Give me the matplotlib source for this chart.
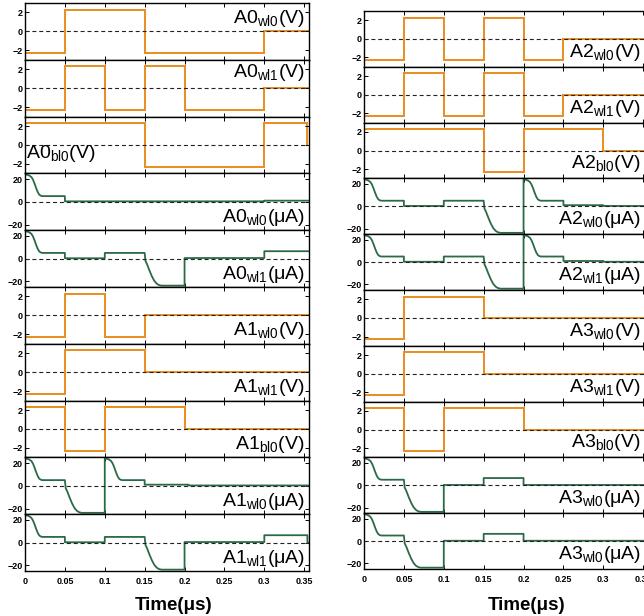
import matplotlib.pyplot as plt

plt.rcParams['font.family'] = ['Liberation Sans', 'DejaVu Sans']
plt.rcParams['mathtext.fontset'] = 'custom'
plt.rcParams['mathtext.rm'] = 'Liberation Sans'
plt.rcParams['mathtext.it'] = 'Liberation Sans:italic'
plt.rcParams['mathtext.bf'] = 'Liberation Sans:bold'

T_END = 0.356
ORANGE = '#EA8C1E'
GREEN = '#2B6A47'

# voltage waveforms: switching times (edges) and levels
A0_WL0_V = ([0, 0.05, 0.15, 0.30, T_END], [-2.3, 2.3, -2.3, 0])
A0_WL1_V = ([0, 0.05, 0.10, 0.15, 0.20, 0.30, T_END], [-2.3, 2.3, -2.3, 2.3, -2.3, 0])
A0_BL0_V = ([0, 0.15, 0.30, 0.353], [2.3, -2.3, 2.3])
A1_WL0_V = ([0, 0.05, 0.10, 0.15, T_END], [-2.3, 2.3, -2.3, 0])
A1_WL1_V = ([0, 0.05, 0.15, T_END], [-2.3, 2.3, 0])
A1_BL0_V = ([0, 0.05, 0.10, 0.20, T_END], [2.3, -2.3, 2.3, 0])
A2_WL0_V = ([0, 0.05, 0.10, 0.15, 0.20, 0.25, T_END], [-2.3, 2.3, -2.3, 2.3, -2.3, 0])
A2_WL1_V = ([0, 0.05, 0.10, 0.15, 0.20, 0.25, T_END], [-2.3, 2.3, -2.3, 2.3, -2.3, 0])
A2_BL0_V = ([0, 0.15, 0.20, 0.30, T_END], [2.3, -2.3, 2.3, 0])
A3_WL0_V = ([0, 0.05, 0.15, T_END], [-2.3, 2.3, 0])
A3_WL1_V = ([0, 0.05, 0.15, T_END], [-2.3, 2.3, 0])
A3_BL0_V = ([0, 0.05, 0.10, 0.20, T_END], [2.3, -2.3, 2.3, 0])

# current transient shapes (time offset, uA)
DECAY_DT = [0, 0.002, 0.005, 0.008, 0.010, 0.012, 0.014, 0.016, 0.018, 0.020, 0.022]
DECAY_I = [24, 23.9, 23.3, 21.8, 19.5, 16, 12, 8.5, 6.2, 5.3, 5]
FALL_DT = [0, 0.001, 0.003, 0.006, 0.009, 0.012, 0.015, 0.018, 0.021]
FALL_I = [5, -2, -5, -10.5, -15.5, -19.5, -22, -23.3, -23.8]

# current waveforms: (start time, level or transient)
A0_WL0_I = [(0, 'decay'), (0.05, 0.4), (0.30, 1.0)]
A0_WL1_I = [(0, 'decay'), (0.05, 0.3), (0.10, 5), (0.15, 'fall'), (0.20, 0.5), (0.30, 6.5)]
A1_WL0_I = [(0, 'decay'), (0.05, 'fall'), (0.10, 'decay'), (0.15, 1.0), (0.205, 0.3)]
A1_WL1_I = [(0, 'decay'), (0.05, 0.3), (0.10, 5), (0.15, 'fall'), (0.20, 0.5), (0.30, 6.5), (0.354, 0)]
A2_WL0_I = [(0, 'decay'), (0.05, 0.3), (0.10, 5), (0.15, 'fall'), (0.20, 'decay'), (0.25, 1.0), (0.30, 0.3)]
A2_WL1_I = [(0, 'decay'), (0.05, 0.3), (0.10, 5), (0.15, 'fall'), (0.20, 'decay'), (0.25, 1.0), (0.30, 0.3)]
A3_WL0_I = [(0, 'decay'), (0.05, 'fall'), (0.10, 0.3), (0.15, 6.5), (0.20, 0.3)]

X_TICKS = [0, 0.05, 0.1, 0.15, 0.2, 0.25, 0.3, 0.35]
X_TICK_LABELS = ['0', '0.05', '0.1', '0.15', '0.2', '0.25', '0.3', '0.35']


def trace(pieces):
    t, i = [0.0], [0.0]
    for k, (t0, shape) in enumerate(pieces):
        t1 = pieces[k + 1][0] if k + 1 < len(pieces) else T_END
        if shape == 'decay':
            dt, di = DECAY_DT, DECAY_I
        elif shape == 'fall':
            dt, di = FALL_DT, FALL_I
        else:
            dt, di = [0], [shape]
        t += [t0 + d for d in dt] + [t1]
        i += list(di) + [di[-1]]
    return t, i


# (kind, data, name, sub, unit, label x, label y, ha)
left = [
    ('V', A0_WL0_V, 'A0', 'wl0', 'V', 0.986, 0.64, 'right'),
    ('V', A0_WL1_V, 'A0', 'wl1', 'V', 0.986, 0.70, 'right'),
    ('V', A0_BL0_V, 'A0', 'bl0', 'V', 0.004, 0.27, 'left'),
    ('I', A0_WL0_I, 'A0', 'wl0', 'μA', 0.986, 0.14, 'right'),
    ('I', A0_WL1_I, 'A0', 'wl1', 'μA', 0.986, 0.14, 'right'),
    ('V', A1_WL0_V, 'A1', 'wl0', 'V', 0.986, 0.15, 'right'),
    ('V', A1_WL1_V, 'A1', 'wl1', 'V', 0.986, 0.15, 'right'),
    ('V', A1_BL0_V, 'A1', 'bl0', 'V', 0.986, 0.15, 'right'),
    ('I', A1_WL0_I, 'A1', 'wl0', 'μA', 0.986, 0.14, 'right'),
    ('I', A1_WL1_I, 'A1', 'wl1', 'μA', 0.986, 0.14, 'right'),
]
right = [
    ('V', A2_WL0_V, 'A2', 'wl0', 'V', 0.974, 0.18, 'right'),
    ('V', A2_WL1_V, 'A2', 'wl1', 'V', 0.974, 0.18, 'right'),
    ('V', A2_BL0_V, 'A2', 'bl0', 'V', 0.974, 0.18, 'right'),
    ('I', A2_WL0_I, 'A2', 'wl0', 'μA', 0.974, 0.18, 'right'),
    ('I', A2_WL1_I, 'A2', 'wl1', 'μA', 0.974, 0.18, 'right'),
    ('V', A3_WL0_V, 'A3', 'wl0', 'V', 0.974, 0.18, 'right'),
    ('V', A3_WL1_V, 'A3', 'wl1', 'V', 0.974, 0.18, 'right'),
    ('V', A3_BL0_V, 'A3', 'bl0', 'V', 0.974, 0.18, 'right'),
    ('I', A3_WL0_I, 'A3', 'wl0', 'μA', 0.974, 0.18, 'right'),
    ('I', A3_WL0_I, 'A3', 'wl0', 'μA', 0.974, 0.18, 'right'),
]

W, H = 644, 616
fig = plt.figure(figsize=(W / 100, H / 100), dpi=100)


def draw_column(panels, x0, top, bottom):
    ph = (bottom - top) / len(panels)
    for n, (kind, data, name, sub, unit, lx, ly, ha) in enumerate(panels):
        y_top = top + n * ph
        ax = fig.add_axes([x0 / W, 1 - (y_top + ph) / H, 284 / W, ph / H])
        if kind == 'V':
            edges, levels = data
            ax.stairs(levels, edges, baseline=0, color=ORANGE, lw=1.4)
            ax.set_ylim(-3, 3)
            ax.set_yticks([-2, 0, 2])
        else:
            t, i = trace(data)
            ax.plot(t, i, color=GREEN, lw=1.3)
            ax.set_ylim(-25, 25)
            ax.set_yticks([-20, 0, 20])
        ax.axhline(0, color='#222222', lw=0.8, ls=(0, (3.6, 2.6)), zorder=3)
        ax.set_xlim(0, T_END)
        ax.set_xticks(X_TICKS)
        ax.tick_params(direction='in', top=True, right=True, length=3,
                       width=0.7, labelsize=6.5, pad=1.5)
        for lab in ax.get_yticklabels():
            lab.set_fontweight('bold')
        if n == len(panels) - 1:
            ax.set_xticklabels(X_TICK_LABELS, fontweight='bold')
            ax.tick_params(axis='x', pad=4)
        else:
            ax.set_xticklabels([])
        for sp in ax.spines.values():
            sp.set_linewidth(1.0)
        ax.text(lx, ly, f'{name}$_{{\\mathrm{{{sub}}}}}$({unit})', transform=ax.transAxes,
                ha=ha, va='baseline', fontsize=14)


draw_column(left, 25, 3, 571)
draw_column(right, 364, 11, 569)

fig.text(174 / W, 1 - 605 / H, 'Time(μs)', ha='center', va='center',
         fontsize=13.5, fontweight='bold')
fig.text(527 / W, 1 - 605 / H, 'Time(μs)', ha='center', va='center',
         fontsize=13.5, fontweight='bold')

fig.savefig('out.png', dpi=100)
